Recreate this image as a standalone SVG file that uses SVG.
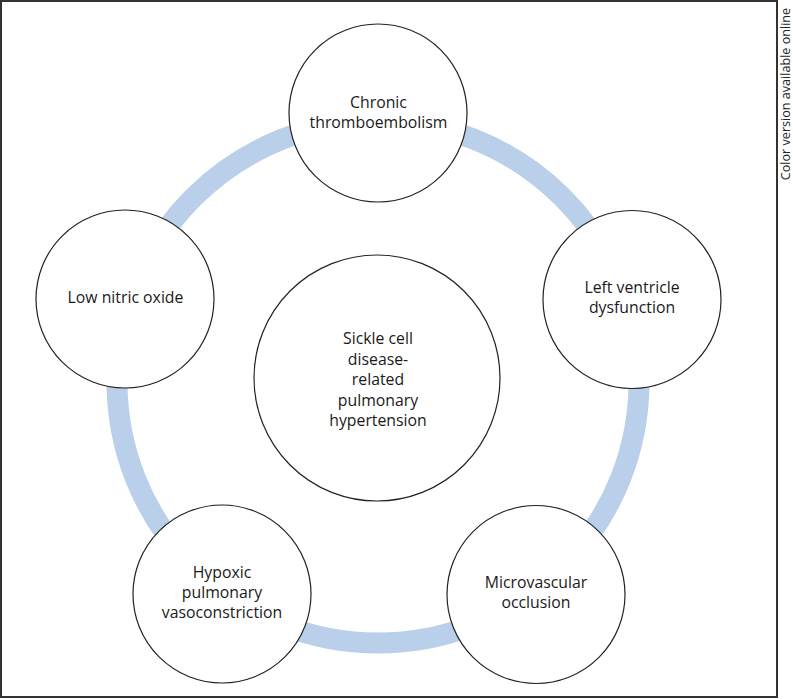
<svg xmlns="http://www.w3.org/2000/svg" width="793" height="699" viewBox="0 0 793 699">
<style>
.node circle{fill:#fff;stroke:#222;stroke-width:1.2}
.node text{font-family:"Open Sans","Noto Sans",sans-serif;font-size:15.8px;fill:#1a1a1a;text-anchor:middle}
.ring{fill:none;stroke:#b9cfea;stroke-width:21}
</style>
<rect x="0" y="0" width="793" height="699" fill="#fff"/>
<rect x="1" y="1" width="776" height="696" fill="none" stroke="#333" stroke-width="2"/>
<text x="789.5" y="94" transform="rotate(-90 789.5 94)" style="font-family:'Open Sans','Noto Sans',sans-serif;font-size:12.6px;fill:#222;text-anchor:middle">Color version available online</text>
<g id="connectors">
<circle class="ring" cx="378" cy="382" r="261"/>
</g>
<g id="center" class="node">
<circle cx="377" cy="378" r="123"/>
<text x="378" y="344">Sickle cell</text>
<text x="378" y="364.5">disease-</text>
<text x="378" y="385">related</text>
<text x="378" y="405.5">pulmonary</text>
<text x="378" y="426">hypertension</text>
</g>
<g id="chronic" class="node">
<circle cx="378" cy="113" r="89"/>
<text x="378.5" y="107.5">Chronic</text>
<text x="378.5" y="127.5">thromboembolism</text>
</g>
<g id="leftventricle" class="node">
<circle cx="632" cy="299.5" r="89"/>
<text x="632" y="292.5">Left ventricle</text>
<text x="632" y="312.5">dysfunction</text>
</g>
<g id="microvascular" class="node">
<circle cx="536" cy="594.5" r="89"/>
<text x="536" y="588">Microvascular</text>
<text x="536" y="608">occlusion</text>
</g>
<g id="hypoxic" class="node">
<circle cx="222" cy="594" r="89"/>
<text x="222" y="578">Hypoxic</text>
<text x="222" y="598">pulmonary</text>
<text x="222" y="618">vasoconstriction</text>
</g>
<g id="nitric" class="node">
<circle cx="125" cy="299" r="89"/>
<text x="125.5" y="303">Low nitric oxide</text>
</g>
</svg>
